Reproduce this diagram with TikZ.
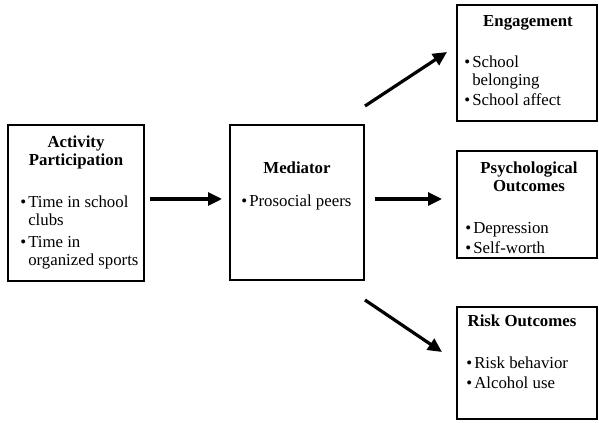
\documentclass[tikz,border=0pt]{standalone}
\usepackage{fontspec}
\setmainfont{Liberation Serif}
\usetikzlibrary{arrows.meta}
\newcommand{\bul}{\llap{\textbullet\hspace{1.5pt}}}

\begin{document}
\begin{tikzpicture}[x=0.75pt, y=-0.75pt,
    every node/.style={inner sep=0pt, font=\fontsize{12.6}{13.5}\selectfont},
    box/.style={draw, line width=1.5pt, outer sep=0pt},
    head/.style={anchor=north, align=center, font=\fontsize{12.6}{13.5}\selectfont\bfseries},
    items/.style={anchor=north west, align=left},
    link/.style={line width=2.4pt, -{Triangle[length=10.5pt, width=9.75pt]}}]
    \useasboundingbox (0,0) rectangle (599,423);

    \node[box, minimum width=102pt, minimum height=117pt] (act) at (76,203) {};
    \node[box, minimum width=100.5pt, minimum height=116.25pt] (med) at (297,202.5) {};
    \node[box, minimum width=105pt, minimum height=87pt] (eng) at (527,63) {};
    \node[box, minimum width=105pt, minimum height=80.25pt] (psy) at (527,204.5) {};
    \node[box, minimum width=105pt, minimum height=84pt] (risk) at (527,363) {};

    \node[head] (acttitle) at (76,136) {Activity\\Participation};
    \node[items] (actlist) at (28,196) {\bul Time in school\\clubs\\[3pt]\bul Time in\\organized sports};

    \node[head] (medtitle) at (297,162) {Mediator};
    \node[items] (medlist) at (249,195) {\bul Prosocial peers};

    \node[head] (engtitle) at (528,15) {Engagement};
    \node[items] (englist) at (472,56) {\bul School\\belonging\\[1.5pt]\bul School affect};

    \node[head] (psytitle) at (529,162) {Psychological\\Outcomes};
    \node[items] (psylist) at (473,222) {\bul Depression\\[1.5pt]\bul Self-worth};

    \node[head] (risktitle) at (522,315) {Risk Outcomes};
    \node[items] (risklist) at (474,357) {\bul Risk behavior\\[1.5pt]\bul Alcohol use};

    \draw[link] ([shift={(6,-4)}]act.east) -- ([shift={(-8,-3.5)}]med.west);
    \draw[link] ([shift={(11,-3.5)}]med.east) -- ([shift={(-15,-5.5)}]psy.west);
    \draw[link] ([shift={(1,-19)}]med.north east) -- ([shift={(-10,-11)}]eng.west);
    \draw[link] ([shift={(1,20)}]med.south east) -- ([shift={(-15,-11)}]risk.west);
\end{tikzpicture}
\end{document}
